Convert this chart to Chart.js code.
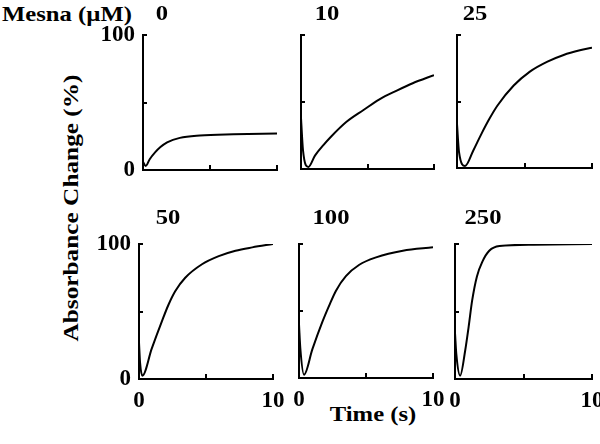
<!DOCTYPE html>
<html>
<head>
<meta charset="utf-8">
<script src="https://cdn.jsdelivr.net/npm/chart.js@4.4.0/dist/chart.umd.min.js"></script>
<style>
  body { margin: 0; background: #fff; overflow: hidden; }
  #wrap { position: relative; width: 600px; height: 444px; overflow: hidden; background: #fff; }
  canvas { position: absolute; }
  .lbl {
    position: absolute;
    font: bold 22px 'Liberation Serif', 'Times New Roman', serif;
    line-height: 22px;
    color: #000;
    white-space: nowrap;
    transform: translate(-50%, -50%) scaleX(1.12);
  }
  .vert { transform: translate(-50%, -50%) rotate(-90deg) scaleX(1.15); }
</style>
</head>
<body>
<div id="wrap">
  <div class="lbl" style="left:67px; top:14px;">Mesna (µM)</div>
  <div class="lbl vert" style="left:71px; top:208px;">Absorbance Change (%)</div>
  <div class="lbl" style="left:373px; top:414px;">Time (s)</div>
</div>
<script>
// Mesna concentrations (uM), one panel each
const concentrations = ['0', '10', '25', '50', '100', '250'];

// time (s) and absorbance change (%)
const t0 = [0, 0.2, 0.5, 0.9, 1.3, 1.8, 2.75, 4.25, 6.75, 10];
const a0 = [6, 3, 8, 13, 17, 20.5, 23.8, 25.5, 26.4, 27];

const t10 = [0, 0.15, 0.55, 1.05, 1.7, 2.2, 3.4, 4.7, 5.9, 7.2, 8.4, 10];
const a10 = [38, 14, 1.5, 10, 18, 23.5, 35, 44, 52, 58.5, 64, 70];

const t25 = [0, 0.15, 0.6, 1.2, 1.8, 2.4, 3, 4.2, 5.4, 6.7, 7.9, 9.1, 10];
const a25 = [33, 12, 1.5, 13, 25.5, 37, 47, 62, 72.5, 80, 85, 88.5, 90.5];

const t50 = [0, 0.08, 0.25, 0.95, 1.7, 2.2, 2.7, 3.45, 4.7, 5.95, 7.2, 8.45, 10];
const a50 = [27, 12, 2.5, 22.5, 42.5, 55, 65, 75, 85, 91, 95, 97.5, 100];

const t100 = [0, 0.1, 0.375, 1, 1.75, 2.25, 2.75, 3.5, 4.5, 5.75, 7.75, 10];
const a100 = [40, 22, 2.5, 21.5, 42, 54, 65, 76, 84.5, 90, 95, 97.5];

const t250 = [0, 0.1, 0.375, 0.75, 1, 1.25, 1.6, 2, 2.5, 3.25, 5.75, 10];
const a250 = [34, 18, 2.5, 21.5, 39, 58, 76, 87, 95, 98.5, 99.5, 100];

const times = [t0, t10, t25, t50, t100, t250];
const values = [a0, a10, a25, a50, a100, a250];

// axis ticks
const yTicks = [0, 100];
const xTicks = [0, 10];

// plot area of each panel: left, top, right, bottom
const boxes = [
  [143, 35, 277, 170], [301, 35, 434, 169], [457, 35, 592, 168],
  [139, 244, 273, 379], [299, 244, 433, 378], [455, 244, 592, 379]
];
// where the concentration label sits (centre)
const titlePos = [[162, 13], [327, 13], [475, 13], [168, 217], [331, 217], [483, 217]];

const PAD_L = 56, PAD_T = 14, PAD_R = 14, X_H = 40;
const FONT = { family: "'Liberation Serif', 'Times New Roman', serif", size: 23, weight: 'bold' };

const wrap = document.getElementById('wrap');

// keep the plot area fixed: no extra room for overhanging tick labels
function noPadding(s) {
  s.paddingTop = 0; s.paddingBottom = 0; s.paddingLeft = 0; s.paddingRight = 0;
}

concentrations.forEach((conc, i) => {
  const [l, t, r, b] = boxes[i];
  const showY = i % 3 === 0;
  const showX = i >= 3;

  const cv = document.createElement('canvas');
  const w = PAD_L + (r - l) + PAD_R;
  const h = PAD_T + (b - t) + X_H;
  cv.width = w; cv.height = h;
  cv.style.left = (l - PAD_L) + 'px';
  cv.style.top = (t - PAD_T) + 'px';
  cv.style.width = w + 'px';
  cv.style.height = h + 'px';
  wrap.appendChild(cv);

  const ttl = document.createElement('div');
  ttl.className = 'lbl';
  ttl.textContent = conc;
  ttl.style.left = titlePos[i][0] + 'px';
  ttl.style.top = titlePos[i][1] + 'px';
  wrap.appendChild(ttl);

  new Chart(cv.getContext('2d'), {
    type: 'line',
    data: {
      datasets: [{
        data: times[i].map((x, k) => ({ x: x, y: values[i][k] })),
        borderColor: '#000',
        borderWidth: 2,
        pointRadius: 0,
        fill: false,
        cubicInterpolationMode: 'monotone'
      }]
    },
    options: {
      responsive: false,
      animation: false,
      devicePixelRatio: 1,
      layout: { padding: { left: 0, top: PAD_T, right: PAD_R, bottom: 0 } },
      plugins: { legend: { display: false }, tooltip: { enabled: false } },
      scales: {
        x: {
          type: 'linear',
          min: 0, max: 10,
          afterFit: (s) => { s.height = X_H; noPadding(s); },
          border: { color: '#000', width: 2 },
          grid: { drawOnChartArea: false, drawTicks: true, tickLength: -5, color: '#000', lineWidth: 2 },
          ticks: {
            stepSize: 5, autoSkip: false, maxRotation: 0, padding: 13, color: '#000', font: FONT,
            callback: (v) => (showX && xTicks.includes(v)) ? String(v) : ''
          }
        },
        y: {
          min: 0, max: 100,
          afterFit: (s) => { s.width = PAD_L; noPadding(s); },
          border: { color: '#000', width: 2 },
          grid: { drawOnChartArea: false, drawTicks: true, tickLength: -4, color: '#000', lineWidth: 2 },
          ticks: {
            stepSize: 50, autoSkip: false, padding: 12, color: '#000', font: FONT,
            callback: (v) => (showY && yTicks.includes(v)) ? String(v) : ''
          }
        }
      }
    }
  });
});
</script>
</body>
</html>
